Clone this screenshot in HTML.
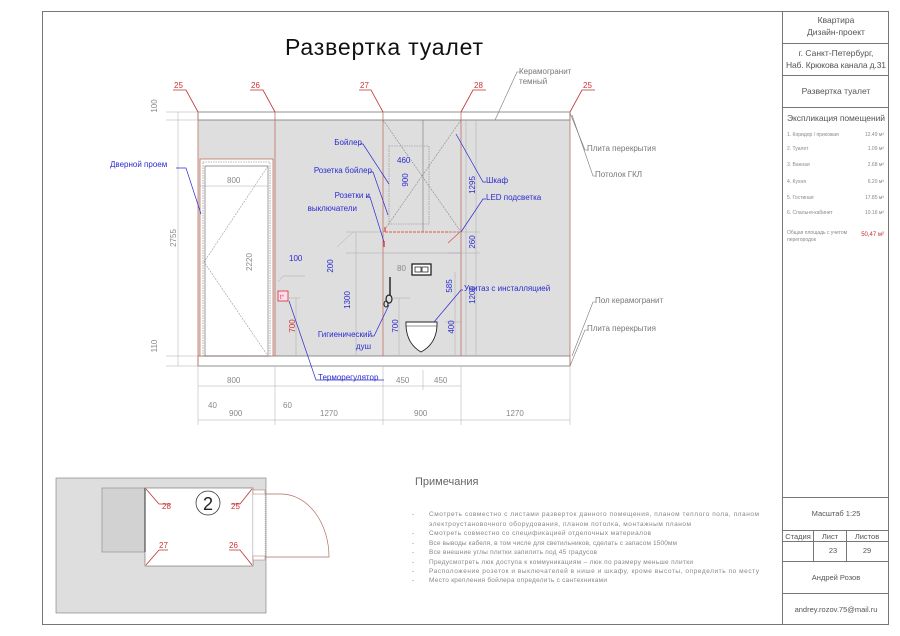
<!DOCTYPE html>
<html><head><meta charset="utf-8"><style>
html,body{margin:0;padding:0;background:#fff;}
svg{display:block;font-family:"Liberation Sans","Noto Sans CJK SC",sans-serif;}
.g{fill:#777;font-size:8px;}
.b{fill:#2b2bd0;font-size:8px;}
.r{fill:#d03030;font-size:8px;}
.d{fill:#888;font-size:8px;}
</style></head><body>
<svg width="900" height="636" viewBox="0 0 900 636" xmlns="http://www.w3.org/2000/svg">
<rect x="0" y="0" width="900" height="636" fill="#fff"/>
<!-- frame -->
<rect x="42.5" y="11.5" width="846" height="613" fill="none" stroke="#777" stroke-width="1"/>
<line x1="782.5" y1="11" x2="782.5" y2="625" stroke="#777"/>
<g stroke="#777" stroke-width="1">
<line x1="782" y1="43.5" x2="889" y2="43.5"/>
<line x1="782" y1="75.5" x2="889" y2="75.5"/>
<line x1="782" y1="107.5" x2="889" y2="107.5"/>
<line x1="782" y1="497.5" x2="889" y2="497.5"/>
<line x1="782" y1="530.5" x2="889" y2="530.5"/>
<line x1="782" y1="541.5" x2="889" y2="541.5"/>
<line x1="782" y1="561.5" x2="889" y2="561.5"/>
<line x1="782" y1="593.5" x2="889" y2="593.5"/>
<line x1="813.5" y1="530" x2="813.5" y2="561"/>
<line x1="846.5" y1="530" x2="846.5" y2="561"/>
</g>
<g fill="#555" font-size="8.5" text-anchor="middle">
<text x="836" y="23">Квартира</text>
<text x="836" y="35">Дизайн-проект</text>
<text x="836" y="56">г. Санкт-Петербург,</text>
<text x="836" y="68" textLength="100">Наб. Крюкова канала д.31</text>
<text x="836" y="94">Развертка туалет</text>
<text x="836" y="121" textLength="98">Экспликация помещений</text>
<text x="836" y="516" font-size="7.5">Масштаб 1:25</text>
<text x="798" y="539" font-size="7.5">Стадия</text>
<text x="830" y="539" font-size="7.5">Лист</text>
<text x="867" y="539" font-size="7.5">Листов</text>
<text x="833" y="553" font-size="7.5">23</text>
<text x="867" y="553" font-size="7.5">29</text>
<text x="836" y="580" font-size="7.5">Андрей Розов</text>
<text x="836" y="612" font-size="7.5">andrey.rozov.75@mail.ru</text>
</g>
<g fill="#888" font-size="5">
<text x="787" y="136">1. Коридор / прихожая</text><text x="884" y="136" text-anchor="end">12.49 м²</text>
<text x="787" y="150">2. Туалет</text><text x="884" y="150" text-anchor="end">1.09 м²</text>
<text x="787" y="166">3. Ванная</text><text x="884" y="166" text-anchor="end">2.68 м²</text>
<text x="787" y="183">4. Кухня</text><text x="884" y="183" text-anchor="end">6.20 м²</text>
<text x="787" y="199">5. Гостиная</text><text x="884" y="199" text-anchor="end">17.85 м²</text>
<text x="787" y="214">6. Спальня-кабинет</text><text x="884" y="214" text-anchor="end">10.16 м²</text>
<text x="787" y="234">Общая площадь с учетом</text>
<text x="787" y="241">перегородок</text>
<text x="884" y="236" text-anchor="end" fill="#c03030" font-size="6">50,47 м²</text>
</g>

<!-- title -->
<text x="285" y="55" font-size="23" fill="#111" textLength="198">Развертка туалет</text>

<!-- elevation -->
<rect x="198" y="120" width="372" height="236" fill="#dedede"/>
<rect x="198" y="112" width="372" height="8" fill="#fff" stroke="#777" stroke-width="0.8"/>
<rect x="198" y="356" width="372" height="10" fill="#fff" stroke="#777" stroke-width="0.8"/>
<!-- door -->
<rect x="200" y="159" width="73" height="197" fill="#fff" stroke="#c07060" stroke-width="0.8"/>
<rect x="203" y="162" width="67" height="194" fill="none" stroke="#777" stroke-width="0.6" stroke-dasharray="1.5,1"/>
<rect x="205" y="166" width="63" height="190" fill="none" stroke="#555" stroke-width="0.6"/>
<polyline points="268,166 204,262 268,356" fill="none" stroke="#999" stroke-width="0.6" stroke-dasharray="2,1"/>
<!-- column lines -->
<g stroke="#c07060" stroke-width="0.8">
<line x1="198" y1="112" x2="198" y2="366"/>
<line x1="275" y1="112" x2="275" y2="356"/>
<line x1="383" y1="112" x2="383" y2="356"/>
<line x1="461" y1="112" x2="461" y2="356"/>
<line x1="570" y1="112" x2="570" y2="366"/>
</g>
<!-- cabinet -->
<g stroke="#888" stroke-width="0.6" fill="none">
<line x1="383" y1="120" x2="461" y2="232" stroke-dasharray="2,1"/>
<line x1="461" y1="120" x2="383" y2="232" stroke-dasharray="2,1"/>
<line x1="423" y1="120" x2="423" y2="232" stroke="#777"/>
<rect x="389" y="146" width="40" height="78" stroke-dasharray="1.5,1"/>
<line x1="383" y1="253" x2="461" y2="253" stroke="#999"/>
</g>
<line x1="385" y1="232" x2="461" y2="232" stroke="#e06030" stroke-width="1" stroke-dasharray="3,1"/>
<line x1="385" y1="227" x2="385" y2="232" stroke="#e04040" stroke-width="1.2"/>
<line x1="384" y1="241" x2="384" y2="247" stroke="#e04040" stroke-width="1.5"/>
<line x1="460" y1="232" x2="448" y2="243" stroke="#e05050" stroke-width="0.8"/>
<!-- flush plate -->
<rect x="412" y="264" width="19" height="11" fill="#fff" stroke="#111" stroke-width="1.2"/>
<rect x="415" y="267" width="6" height="5" fill="none" stroke="#111" stroke-width="0.7"/>
<rect x="422" y="267" width="6" height="5" fill="none" stroke="#111" stroke-width="0.7"/>
<text x="397" y="271" class="d">80</text>
<!-- shower -->
<line x1="390" y1="277" x2="390" y2="296" stroke="#333" stroke-width="1.6"/>
<ellipse cx="389" cy="299" rx="3" ry="4" fill="none" stroke="#222" stroke-width="1.2"/>
<ellipse cx="386" cy="304" rx="2" ry="3" fill="none" stroke="#222" stroke-width="1"/>
<!-- toilet -->
<path d="M406,322 L437,322 L437,326 Q436,344 421,352 Q407,344 406,326 Z" fill="#fff" stroke="#222" stroke-width="0.9"/>
<line x1="406" y1="326" x2="437" y2="326" stroke="#222" stroke-width="0.6"/>
<!-- thermoregulator -->
<rect x="278" y="291" width="10" height="10" fill="#fde" stroke="#d03030" stroke-width="0.8"/>
<text x="280" y="299" font-size="6" fill="#d03030">t°</text>

<!-- dims -->
<g stroke="#aaa" stroke-width="0.5" fill="none">
<line x1="178" y1="112" x2="178" y2="366"/>
<line x1="166" y1="112" x2="198" y2="112"/><line x1="166" y1="120" x2="198" y2="120"/>
<line x1="166" y1="356" x2="198" y2="356"/><line x1="166" y1="366" x2="198" y2="366"/>
<line x1="198" y1="386" x2="461" y2="386"/>
<line x1="198" y1="420" x2="570" y2="420"/>
<line x1="198" y1="366" x2="198" y2="425"/><line x1="275" y1="366" x2="275" y2="425"/>
<line x1="383" y1="366" x2="383" y2="425"/><line x1="461" y1="366" x2="461" y2="425"/>
<line x1="570" y1="366" x2="570" y2="425"/><line x1="423" y1="370" x2="423" y2="390"/>
<line x1="268" y1="166" x2="268" y2="356"/>
<line x1="200" y1="186" x2="268" y2="186"/>
<line x1="356" y1="232" x2="356" y2="356"/><line x1="346" y1="232" x2="383" y2="232"/><line x1="346" y1="253" x2="383" y2="253"/>
<line x1="466" y1="120" x2="466" y2="356"/><line x1="476" y1="120" x2="476" y2="356"/>
<line x1="448" y1="232" x2="480" y2="232"/><line x1="448" y1="253" x2="480" y2="253"/>
<line x1="455" y1="272" x2="455" y2="356"/><line x1="445" y1="322" x2="461" y2="322"/>
<line x1="399" y1="298" x2="399" y2="356"/><line x1="392" y1="298" x2="410" y2="298"/>
<line x1="296" y1="298" x2="296" y2="356"/><line x1="288" y1="298" x2="300" y2="298"/>
<line x1="278" y1="282" x2="283" y2="276" /><line x1="283" y1="276" x2="305" y2="276"/>
<line x1="337" y1="247" x2="353" y2="232"/>
</g>
<g class="d" font-size="8">
<text transform="translate(157,106) rotate(-90)" text-anchor="middle">100</text>
<text transform="translate(176,238) rotate(-90)" text-anchor="middle">2755</text>
<text transform="translate(157,346) rotate(-90)" text-anchor="middle">110</text>
<text transform="translate(252,262) rotate(-90)" text-anchor="middle">2220</text>
<text x="227" y="183">800</text>
<text x="227" y="383">800</text>
<text x="208" y="408">40</text>
<text x="229" y="416">900</text>
<text x="283" y="408">60</text>
<text x="320" y="416">1270</text>
<text x="414" y="416">900</text>
<text x="506" y="416">1270</text>
<text x="396" y="383">450</text>
<text x="434" y="383">450</text>
</g>
<g class="b" font-size="8">
<text x="289" y="261">100</text>
<text transform="translate(333,266) rotate(-90)" text-anchor="middle">200</text>
<text transform="translate(350,300) rotate(-90)" text-anchor="middle">1300</text>
<text transform="translate(398,326) rotate(-90)" text-anchor="middle">700</text>
<text transform="translate(454,327) rotate(-90)" text-anchor="middle">400</text>
<text transform="translate(452,286) rotate(-90)" text-anchor="middle">585</text>
<text transform="translate(475,295) rotate(-90)" text-anchor="middle">1200</text>
<text transform="translate(475,242) rotate(-90)" text-anchor="middle">260</text>
<text transform="translate(475,185) rotate(-90)" text-anchor="middle">1295</text>
<text transform="translate(408,180) rotate(-90)" text-anchor="middle">900</text>
<text x="397" y="163">460</text>
</g>
<text transform="translate(295,326) rotate(-90)" text-anchor="middle" class="r">700</text>

<!-- section markers -->
<g stroke="#c03030" stroke-width="0.8" fill="none">
<polyline points="173,90 186,90 198,112"/>
<polyline points="250,90 263,90 275,112"/>
<polyline points="359,90 371,90 383,112"/>
<polyline points="486,90 473,90 461,112"/>
<polyline points="595,90 582,90 570,112"/>
</g>
<g class="r" font-size="8.5">
<text x="174" y="88">25</text><text x="251" y="88">26</text><text x="360" y="88">27</text><text x="474" y="88">28</text><text x="583" y="88">25</text>
</g>

<!-- leaders blue -->
<g stroke="#2b2bd0" stroke-width="0.7" fill="none">
<polyline points="176,168 186,168 201,214"/>
<polyline points="360,144 363,144 389,184"/>
<polyline points="370,172 373,172 388,215"/>
<polyline points="366,197 370,197 384,242"/>
<polyline points="371,336 374,336 389,305"/>
<polyline points="384,380 316,380 289,301"/>
<polyline points="486,182 483,182 456,134"/>
<polyline points="486,199 483,199 461,232"/>
<polyline points="463,290 461,290 434,322"/>
</g>
<g class="b">
<text x="110" y="167">Дверной проем</text>
<text x="362" y="145" text-anchor="end">Бойлер</text>
<text x="372" y="173" text-anchor="end">Розетка бойлер</text>
<text x="370" y="198" text-anchor="end">Розетки и</text>
<text x="357" y="211" text-anchor="end">выключатели</text>
<text x="372" y="337" text-anchor="end">Гигиенический</text>
<text x="371" y="349" text-anchor="end">душ</text>
<text x="318" y="380">Терморегулятор</text>
<text x="486" y="183">Шкаф</text>
<text x="486" y="200">LED подсветка</text>
<text x="464" y="291">Унитаз с инсталляцией</text>
</g>
<!-- leaders gray -->
<g stroke="#777" stroke-width="0.6" fill="none">
<polyline points="520,72 517,72 495,120"/>
<polyline points="588,150 585,150 570,113"/>
<polyline points="596,176 593,176 572,115"/>
<polyline points="596,302 593,302 572,356"/>
<polyline points="588,330 585,330 570,366"/>
</g>
<g class="g" font-size="7.5">
<text x="519" y="74">Керамогранит</text>
<text x="519" y="84">темный</text>
<text x="587" y="151">Плита перекрытия</text>
<text x="595" y="177">Потолок ГКЛ</text>
<text x="595" y="303">Пол керамогранит</text>
<text x="587" y="331">Плита перекрытия</text>
</g>

<!-- plan -->
<rect x="56" y="478" width="210" height="135" fill="#dedede" stroke="#777" stroke-width="0.6"/>
<rect x="102" y="488" width="43" height="64" fill="#d2d2d2" stroke="#888" stroke-width="0.6"/>
<rect x="145" y="488" width="108" height="78" fill="#fff" stroke="#666" stroke-width="0.6"/>
<line x1="145" y1="488" x2="145" y2="552" stroke="#333" stroke-width="1"/>
<rect x="253" y="493" width="12" height="64" fill="#fff" stroke="#aaa" stroke-width="0.5" stroke-dasharray="1,1"/>
<rect x="253" y="490" width="12" height="4" fill="#fff" stroke="#b07060" stroke-width="0.5"/>
<rect x="253" y="556" width="12" height="4" fill="#fff" stroke="#b07060" stroke-width="0.5"/>
<path d="M265,494 L281,494 A48,63 0 0 1 329,557 L265,557" fill="none" stroke="#b07060" stroke-width="0.7"/>
<circle cx="208" cy="503" r="12" fill="#fff" stroke="#333" stroke-width="0.8"/>
<text x="208" y="510" font-size="18" text-anchor="middle" fill="#222">2</text>
<g stroke="#c03030" stroke-width="0.8" fill="none">
<polyline points="146,489 159,504 171,504"/>
<polyline points="252,489 240,504 231,504"/>
<polyline points="146,565 159,550 168,550"/>
<polyline points="252,565 240,550 229,550"/>
</g>
<g class="r" font-size="8.5">
<text x="162" y="509">28</text><text x="231" y="509">25</text><text x="159" y="548">27</text><text x="229" y="548">26</text>
</g>

<!-- notes -->
<text x="415" y="485" font-size="11" fill="#666">Примечания</text>
<g fill="#888" font-size="6.5">
<text x="412" y="516">-</text><text x="429" y="516" textLength="330">Смотреть совместно с листами разверток данного помещения, планом теплого пола, планом</text>
<text x="429" y="526" textLength="262">электроустановочного оборудования, планом потолка, монтажным планом</text>
<text x="412" y="535">-</text><text x="429" y="535" textLength="222">Смотреть совместно со спецификацией отделочных материалов</text>
<text x="412" y="545">-</text><text x="429" y="545" textLength="248">Все выводы кабеля, в том числе для светильников, сделать с запасом 1500мм</text>
<text x="412" y="554">-</text><text x="429" y="554" textLength="168">Все внешние углы плитки запилить под 45 градусов</text>
<text x="412" y="564">-</text><text x="429" y="564" textLength="264">Предусмотреть люк доступа к коммуникациям – люк по размеру меньше плитки</text>
<text x="412" y="573">-</text><text x="429" y="573" textLength="330">Расположение розеток и выключателей в нише и шкафу, кроме высоты, определить по месту</text>
<text x="412" y="582">-</text><text x="429" y="582" textLength="178">Место крепления бойлера определить с сантехниками</text>
</g>
</svg>
</body></html>
